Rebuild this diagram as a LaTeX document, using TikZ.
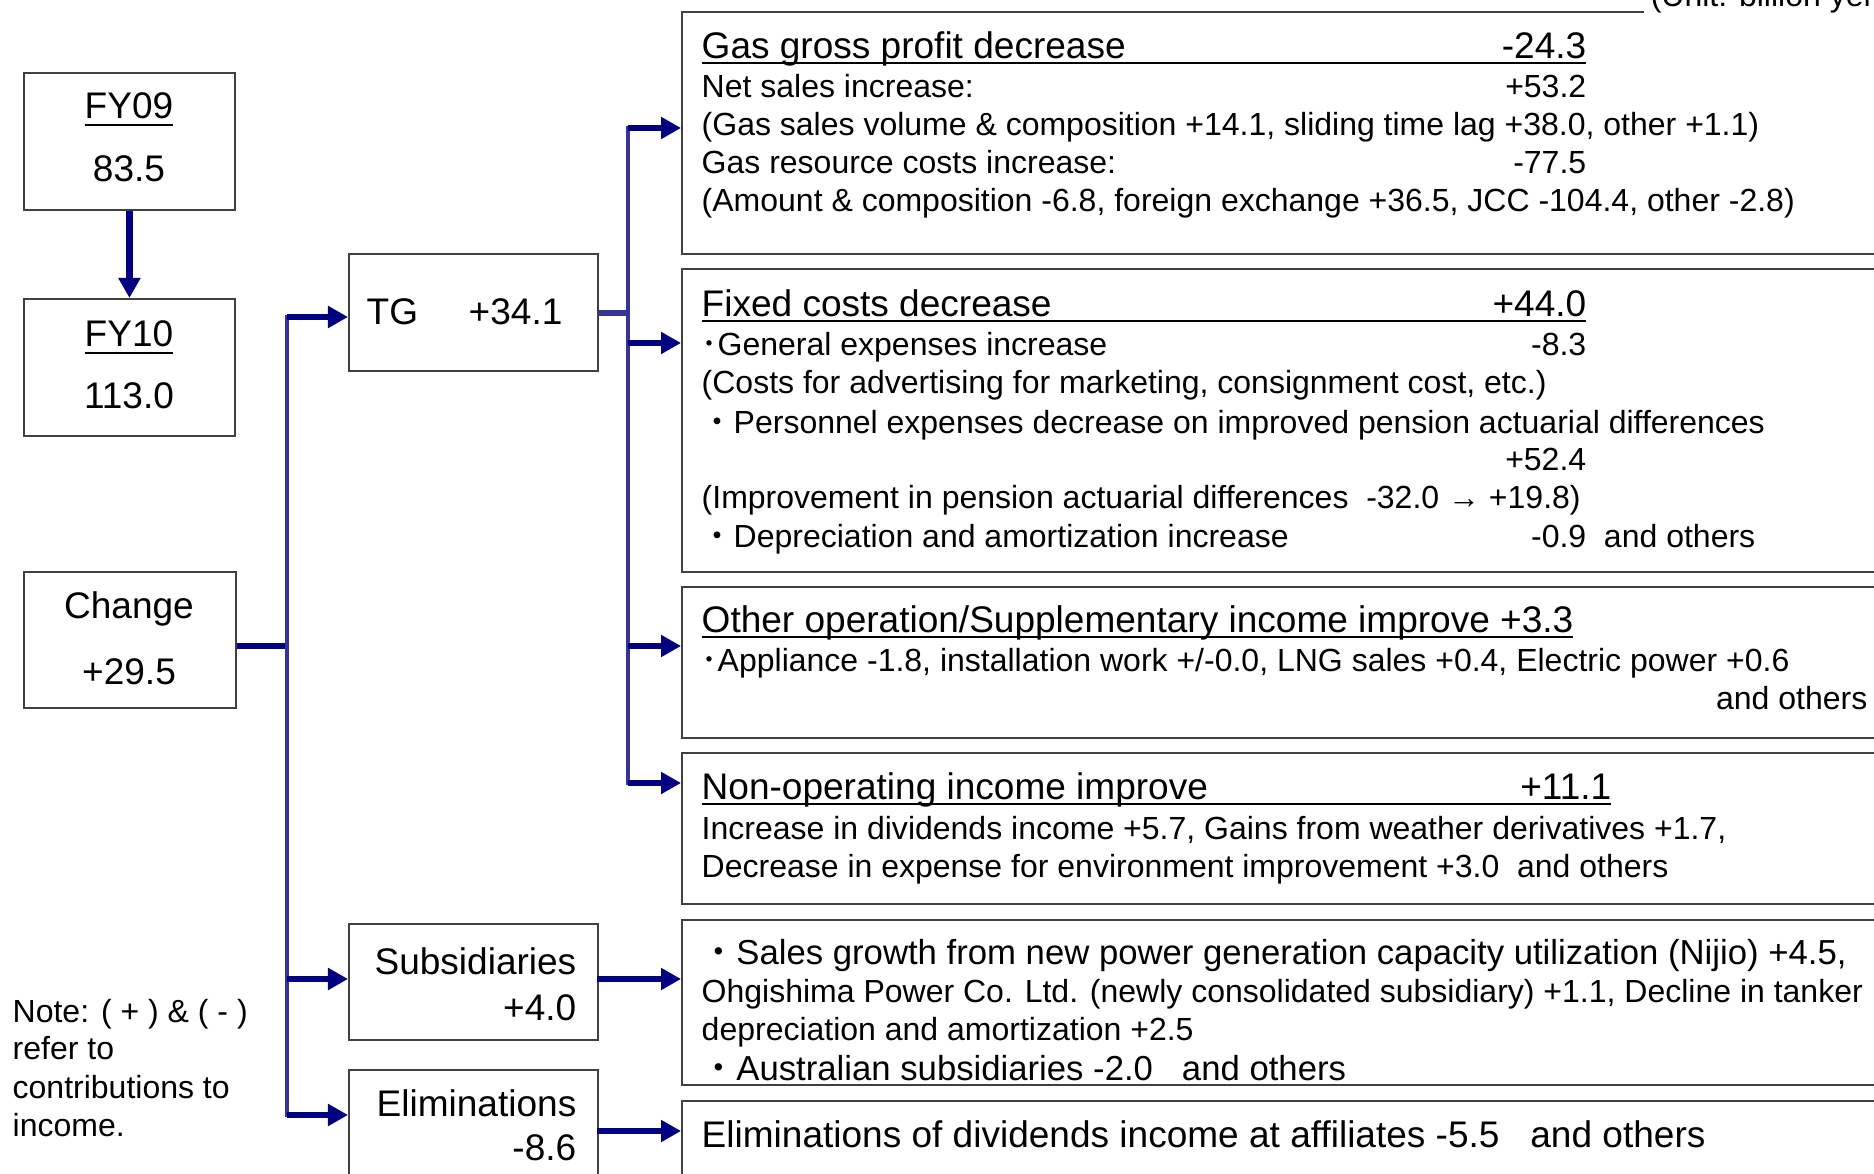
\documentclass[tikz,border=0pt]{standalone}
\usepackage{fontspec}
\setmainfont{Liberation Sans}
\newfontfamily\cjk{Noto Sans CJK JP}
\usetikzlibrary{arrows.meta}
\definecolor{navyc}{RGB}{0,0,128}
\definecolor{vlinec}{RGB}{51,51,153}
\definecolor{boxc}{RGB}{64,64,64}
\newcommand\myul[3]{\setbox0\hbox{#3}\rlap{\rule[#1]{\wd0}{#2}}\box0}
\newcommand\fdot{{\cjk ・}}
\newcommand\hdot{{\cjk ･}}
\begin{document}
\begin{tikzpicture}[x=0.01cm,y=-0.01cm,
  box/.style={draw=boxc, line width=0.5pt, inner sep=0, anchor=north west},
  big/.style={font=\fontsize{10.53}{12}\selectfont, inner sep=0},
  body/.style={font=\fontsize{9.1}{11}\selectfont, inner sep=0, anchor=base west},
  bodyl/.style={font=\fontsize{9.87}{11}\selectfont, inner sep=0, anchor=base west},
  head/.style={font=\fontsize{10.53}{12}\selectfont, inner sep=0, anchor=base west},
  vline/.style={draw=vlinec, line width=1.3pt, line cap=rect},
  shaft/.style={draw=navyc, line width=1.75pt},
  arr/.style={draw=navyc, line width=1.75pt, -{Triangle[length=0.2cm,width=0.21cm]}},
  ]
\useasboundingbox (0,0) rectangle (1874,1174);
\clip (0,0) rectangle (1874,1174);

% ---------- boxes ----------
\node[box, minimum width=2.11cm, minimum height=1.37cm] (fy09) at (23,72) {};
\node[box, minimum width=2.11cm, minimum height=1.37cm] (fy10) at (23,298) {};
\node[box, minimum width=2.12cm, minimum height=1.36cm] (chg) at (23,571) {};
\node[box, minimum width=2.49cm, minimum height=1.17cm] (tg) at (348,253) {};
\node[box, minimum width=2.49cm, minimum height=1.16cm] (subs) at (348,923) {};
\node[box, minimum width=2.49cm, minimum height=1.40cm] (elim) at (348,1069) {};
\node[box, minimum width=12.2cm, minimum height=2.42cm] (gas) at (681,11) {};
\node[box, minimum width=12.2cm, minimum height=3.03cm] (fixed) at (681,268) {};
\node[box, minimum width=12.2cm, minimum height=1.51cm] (other) at (681,586) {};
\node[box, minimum width=12.2cm, minimum height=1.51cm] (nonop) at (681,752) {};
\node[box, minimum width=12.2cm, minimum height=1.65cm] (subsd) at (681,919) {};
\node[box, minimum width=12.2cm, minimum height=1.20cm] (elimd) at (681,1100) {};

% ---------- connectors ----------
\draw[arr, line width=2pt] (fy09.south) -- (fy10.north);

\coordinate (cj) at (287,646);
\coordinate (ltop) at (287,317);
\coordinate (lsub) at (287,979);
\coordinate (lbot) at (287,1115);
\draw[shaft] (cj -| chg.east) -- (cj);
\draw[vline] (ltop) -- (lbot);
\draw[arr] (ltop) -- (ltop -| tg.west);
\draw[arr] (lsub) -- (lsub -| subs.west);
\draw[arr] (lbot) -- (lbot -| elim.west);

\coordinate (tj) at (628,313);
\coordinate (r1) at (628,128);
\coordinate (r2) at (628,343);
\coordinate (r3) at (628,646);
\coordinate (r4) at (628,783);
\draw[draw=vlinec, line width=1.75pt] (tj -| tg.east) -- (tj);
\draw[vline] (r1) -- (r4);
\draw[arr] (r1) -- (r1 -| gas.west);
\draw[arr] (r2) -- (r2 -| fixed.west);
\draw[arr] (r3) -- (r3 -| other.west);
\draw[arr] (r4) -- (r4 -| nonop.west);

\coordinate (s1) at (597,979);
\coordinate (e1) at (597,1131);
\draw[arr] (s1) -- (s1 -| subsd.west);
\draw[arr] (e1) -- (e1 -| elimd.west);

% ---------- left labels ----------
\node[big, anchor=base] (fy09a) at (129,119) {\myul{-2pt}{0.5pt}{FY09}};
\node[big, anchor=base] (fy09b) at (129,182) {83.5};
\node[big, anchor=base] (fy10a) at (129,347) {\myul{-2pt}{0.5pt}{FY10}};
\node[big, anchor=base] (fy10b) at (129,409) {113.0};
\node[big, anchor=base] (chga) at (129,619) {Change};
\node[big, anchor=base] (chgb) at (129,685) {+29.5};
\node[big, anchor=base west] (tga) at (366,325) {TG};
\node[big, anchor=base west] (tgb) at (468,325) {+34.1};
\node[big, anchor=base east] (subsa) at (577,974) {Subsidiaries};
\node[big, anchor=base east] (subsb) at (577,1020) {+4.0};
\node[big, anchor=base east] (elima) at (577,1116) {Eliminations};
\node[big, anchor=base east] (elimb) at (577,1160) {-8.6};

\node[body] (n1) at (12,1022) {Note: ( + ) \& ( - )};
\node[body] (n2) at (12,1059) {refer to};
\node[body] (n3) at (12,1098) {contributions to};
\node[body] (n4) at (12,1136) {income.};

% ---------- unit ----------
\node[body, fill=white, inner xsep=2pt, inner ysep=1pt] (unit) at (1643,7) {(Unit: billion yen)};

% ---------- gas box ----------
\node[head] (gh) at (701,59) {\myul{-1.45pt}{0.6pt}{\makebox[8.84cm][l]{Gas gross profit decrease\hfill-24.3}}};
\node[body] (g1) at (701,98) {\makebox[8.84cm][l]{Net sales increase:\hfill+53.2}};
\node[body] (g2) at (701,136) {(Gas sales volume \& composition +14.1, sliding time lag +38.0, other +1.1)};
\node[body] (g3) at (701,174) {\makebox[8.84cm][l]{Gas resource costs increase:\hfill-77.5}};
\node[body] (g4) at (701,212) {(Amount \& composition -6.8, foreign exchange +36.5, JCC -104.4, other -2.8)};

% ---------- fixed box ----------
\node[head] (fh) at (701,317) {\myul{-1.45pt}{0.6pt}{\makebox[8.84cm][l]{Fixed costs decrease\hfill+44.0}}};
\node[body] (f1) at (701,356) {\makebox[8.84cm][l]{\hdot General expenses increase\hfill-8.3}};
\node[body] (f2) at (701,394) {(Costs for advertising for marketing, consignment cost, etc.)};
\node[body] (f3) at (701,434) {\fdot Personnel expenses decrease on improved pension actuarial differences};
\node[body] (f4) at (701,471) {\makebox[8.84cm][r]{+52.4}};
\node[body] (f5) at (701,509) {(Improvement in pension actuarial differences\ \ -32.0 → +19.8)};
\node[body] (f6) at (701,548) {\makebox[8.84cm][l]{\fdot Depreciation and amortization increase\hfill-0.9}\ \ and others};

% ---------- other box ----------
\node[head] (oh) at (701,633) {\myul{-1.45pt}{0.6pt}{Other operation/Supplementary income improve +3.3}};
\node[body] (o1) at (701,672) {\hdot Appliance -1.8, installation work +/-0.0, LNG sales +0.4, Electric power +0.6};
\node[body, anchor=base east] (o2) at (1868,710) {and others};

% ---------- non-operating box ----------
\node[head] (nh) at (701,800) {\myul{-1.45pt}{0.6pt}{\makebox[9.09cm][l]{Non-operating income improve\hfill+11.1}}};
\node[body] (nb1) at (701,839) {Increase in dividends income +5.7, Gains from weather derivatives +1.7,};
\node[body] (nb2) at (701,877) {Decrease in expense for environment improvement +3.0\ \ and others};

% ---------- subsidiaries detail ----------
\node[bodyl] (sd1) at (701,964) {\fdot Sales growth from new power generation capacity utilization (Nijio) +4.5,};
\node[body] (sd2) at (701,1002) {Ohgishima Power Co. Ltd. (newly consolidated subsidiary) +1.1, Decline in tanker};
\node[body] (sd3) at (701,1040) {depreciation and amortization +2.5};
\node[bodyl] (sd4) at (701,1080) {\fdot Australian subsidiaries -2.0\ \ \ and others};

% ---------- eliminations detail ----------
\node[head] (ed1) at (701,1147) {Eliminations of dividends income at affiliates -5.5\ \ \ and others};
\end{tikzpicture}
\end{document}
